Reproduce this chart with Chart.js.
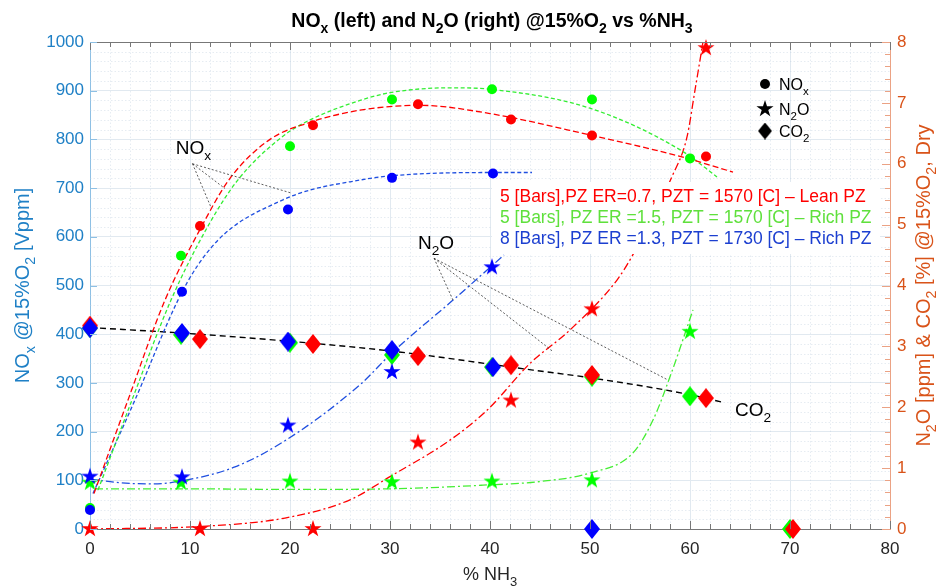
<!DOCTYPE html>
<html>
<head>
<meta charset="utf-8">
<script src="https://cdn.jsdelivr.net/npm/chart.js@4.4.1/dist/chart.umd.min.js"></script>
<style>
  html, body { margin: 0; padding: 0; background: #fff; }
</style>
</head>
<body>
<canvas id="myChart" width="943" height="587"></canvas>
<script>
// ---- data ----
// tick labels
const xTicks = [0, 10, 20, 30, 40, 50, 60, 70, 80];
const noxTicks = [0, 100, 200, 300, 400, 500, 600, 700, 800, 900, 1000];
const rightTicks = [0, 1, 2, 3, 4, 5, 6, 7, 8];

// measured points, %NH3 per case
const redX = [0, 11, 22.3, 32.8, 42.1, 50.2, 61.6, 70.3];
const greenX = [0, 9.1, 20, 30.2, 40.2, 50.2, 60, 70];
const blueX = [0, 9.2, 19.8, 30.2, 40.3, 50.2];

// NOx @15%O2 [Vppm] (left axis)
const noxRedX = [11, 22.3, 32.8, 42.1, 50.2, 61.6];
const noxRed = [622, 829, 872, 841, 808, 765];
const noxGreenX = [0, 9.1, 20, 30.2, 40.2, 50.2, 60];
const noxGreen = [43, 561, 786, 882, 903, 882, 761];
const noxBlueX = [0, 9.2, 19.8, 30.2, 40.3];
const noxBlue = [39, 487, 656, 721, 730];

// N2O [ppm] (right axis)
const n2oRedX = [0, 11, 22.3, 32.8, 42.1, 50.2, 61.6];
const n2oRed = [0, 0, 0, 1.42, 2.11, 3.61, 7.90];
const n2oGreenX = [0, 9.1, 20, 30.2, 40.2, 50.2, 60];
const n2oGreen = [0.76, 0.76, 0.78, 0.77, 0.78, 0.80, 3.24];
const n2oBlueX = [0, 9.2, 19.8, 30.2, 40.2];
const n2oBlue = [0.86, 0.85, 1.70, 2.58, 4.30];

// CO2 [%] (right axis)
const co2Red = [3.34, 3.12, 3.04, 2.84, 2.69, 2.53, 2.15, 0];
const co2Green = [3.30, 3.19, 3.06, 2.86, 2.66, 2.50, 2.18, 0];
const co2Blue = [3.30, 3.22, 3.08, 2.94, 2.66, 0];

// fitted trend curves as drawn in the figure
const noxFitRedX = [0.4, 3.8, 7.5, 11, 14, 18, 22, 27, 33, 40, 50, 59, 64.3];
const noxFitRed = [73, 265, 470, 615, 720, 800, 835, 860, 870, 853, 809, 765, 733];
const noxFitGreenX = [0.8, 4.2, 8.1, 11.8, 14.8, 19.2, 22, 27, 30, 36, 40, 50, 59.3, 62.7];
const noxFitGreen = [80, 265, 470, 622, 717, 805, 840, 880, 896, 906, 903, 864, 775, 723];
const noxFitBlueX = [0.3, 4.5, 8.8, 10.7, 13.5, 19.3, 22, 26, 30, 40, 44.2];
const noxFitBlue = [73, 265, 470, 539, 607, 676, 696, 713, 725, 732, 732];

const n2oFitRedX = [0, 10.8, 19.5, 26, 30, 36, 39.7, 44, 48, 52.7, 54.2, 58.2, 59.7, 60.5, 61.3];
const n2oFitRed = [0, 0.04, 0.18, 0.48, 0.86, 1.46, 1.95, 2.72, 3.27, 4.09, 4.48, 5.79, 6.44, 7.21, 8.0];
const n2oFitGreenX = [0.5, 10, 20, 30, 39.3, 45, 50, 54.3, 56.3, 58, 60.3];
const n2oFitGreen = [0.66, 0.66, 0.65, 0.66, 0.72, 0.78, 0.92, 1.25, 1.79, 2.5, 3.6];
const n2oFitBlueX = [0, 3, 6.2, 9.2, 14.5, 19.5, 27, 30.3, 36.3, 41.4];
const n2oFitBlue = [0.82, 0.76, 0.74, 0.79, 1.02, 1.45, 2.37, 2.91, 3.76, 4.5];

const co2FitX = [0, 10, 19.5, 30.3, 44.3, 50.2, 60.2, 63.3];
const co2Fit = [3.31, 3.21, 3.09, 2.92, 2.61, 2.48, 2.2, 2.08];

// annotation leader lines (first point is the label end), left-axis units
const noxLeaderX = [10.25, 12.05, 13.5, 20.1];
const noxLeaderY = [750, 663, 699, 690];
const n2oLeaderX = [34.4, 36.3, 46.2, 57.7];
const n2oLeaderY = [556, 470, 366, 307];

const caseLabels = [
    '5 [Bars],PZ ER=0.7, PZT = 1570 [C] \u2013 Lean PZ',
    '5 [Bars], PZ ER =1.5, PZT = 1570 [C] \u2013 Rich PZ',
    '8 [Bars], PZ ER =1.3, PZT = 1730 [C] \u2013 Rich PZ'
];

// ---- helpers ----
const FONT = '"Liberation Sans", Arial, Helvetica, sans-serif';
const RED = '#ff0000', GREEN = '#00ff00', BLUE = '#0000ff';
const LEFTC = '#1f80c6', RIGHTC = '#d95319';

function pts(xs, ys) { return xs.map((x, i) => ({ x: x, y: ys[i] })); }

function starImg(color, R) {
    const c = document.createElement('canvas');
    const s = Math.ceil(R * 2 + 2);
    c.width = s; c.height = s;
    const g = c.getContext('2d');
    g.translate(s / 2, s / 2);
    g.beginPath();
    for (let i = 0; i < 10; i++) {
        const r = i % 2 ? R * 0.382 : R;
        const a = -Math.PI / 2 + i * Math.PI / 5;
        g.lineTo(r * Math.cos(a), r * Math.sin(a));
    }
    g.closePath();
    g.fillStyle = color;
    g.fill();
    return c;
}

function diamondImg(color, w, h) {
    const c = document.createElement('canvas');
    c.width = w; c.height = h;
    const g = c.getContext('2d');
    g.beginPath();
    g.moveTo(w / 2, 0); g.lineTo(w, h / 2); g.lineTo(w / 2, h); g.lineTo(0, h / 2);
    g.closePath();
    g.fillStyle = color;
    g.fill();
    return c;
}

// text with "_c" meaning subscript c
function richParts(str) {
    const out = [];
    let buf = '';
    for (let i = 0; i < str.length; i++) {
        if (str[i] === '_') {
            if (buf) out.push({ t: buf, sub: false });
            buf = '';
            out.push({ t: str[i + 1], sub: true });
            i++;
        } else buf += str[i];
    }
    if (buf) out.push({ t: buf, sub: false });
    return out;
}

function drawRich(ctx, str, x, y, size, color, align, weight) {
    const ps = richParts(str);
    const fnt = s => (weight || 'normal') + ' ' + s + 'px ' + FONT;
    let w = 0;
    ps.forEach(p => { ctx.font = fnt(p.sub ? size * 0.72 : size); p.w = ctx.measureText(p.t).width; w += p.w; });
    let cx = align === 'center' ? x - w / 2 : x;
    ctx.fillStyle = color;
    ctx.textAlign = 'left';
    ctx.textBaseline = 'alphabetic';
    ps.forEach(p => {
        ctx.font = fnt(p.sub ? size * 0.72 : size);
        ctx.fillText(p.t, cx, y + (p.sub ? size * 0.32 : 0));
        cx += p.w;
    });
}

const stars = { r: starImg(RED, 9), g: starImg(GREEN, 9), b: starImg(BLUE, 9), k: starImg('#000', 9) };
const diamonds = { r: diamondImg(RED, 16, 20), g: diamondImg(GREEN, 16, 20), b: diamondImg(BLUE, 16, 20), k: diamondImg('#000', 14, 17) };

function fit(data, color, dash, axis, width) {
    return {
        data: data, yAxisID: axis, showLine: true, borderColor: color, borderWidth: width || 1.3,
        borderDash: dash, pointRadius: 0, fill: false, cubicInterpolationMode: 'monotone', order: 10
    };
}
function marks(data, color, style, axis, order) {
    return {
        data: data, yAxisID: axis, showLine: false, pointStyle: style, pointRadius: 5,
        backgroundColor: color, borderColor: color, borderWidth: 0, order: order, clip: false
    };
}
function leader(xs, ys) {
    const set = [];
    for (let i = 1; i < xs.length; i++) {
        set.push({
            data: [{ x: xs[0], y: ys[0] }, { x: xs[i], y: ys[i] }], yAxisID: 'y', showLine: true,
            borderColor: '#333', borderWidth: 0.8, borderDash: [2, 2], pointRadius: 0, order: 9
        });
    }
    return set;
}

// minor grid, inward ticks, box, texts
const decorations = {
    id: 'decorations',
    beforeDatasetsDraw(chart) {
        const { ctx, chartArea: a, scales } = chart;
        ctx.save();
        ctx.strokeStyle = 'rgba(190,205,220,0.55)';
        ctx.lineWidth = 0.7;
        ctx.setLineDash([1.5, 2]);
        for (let v = 0; v <= 80; v += 2) {
            if (v % 10 === 0) continue;
            const px = Math.round(scales.x.getPixelForValue(v)) + 0.5;
            ctx.beginPath(); ctx.moveTo(px, a.top); ctx.lineTo(px, a.bottom); ctx.stroke();
        }
        for (let v = 0; v <= 1000; v += 20) {
            if (v % 100 === 0) continue;
            const py = Math.round(scales.y.getPixelForValue(v)) + 0.5;
            ctx.beginPath(); ctx.moveTo(a.left, py); ctx.lineTo(a.right, py); ctx.stroke();
        }
        ctx.restore();
    },
    afterDatasetsDraw(chart) {
        const { ctx, chartArea: a, scales } = chart;
        const sx = scales.x, sy = scales.y, sr = scales.y2;
        ctx.save();
        ctx.setLineDash([]);
        // top border and x ticks (top and bottom)
        ctx.strokeStyle = '#777';
        ctx.lineWidth = 1;
        ctx.beginPath(); ctx.moveTo(a.left, a.top + 0.5); ctx.lineTo(a.right, a.top + 0.5); ctx.stroke();
        for (let v = 0; v <= 80; v += 2) {
            const px = Math.round(sx.getPixelForValue(v)) + 0.5;
            const len = v % 10 === 0 ? 8 : 5;
            ctx.beginPath(); ctx.moveTo(px, a.top); ctx.lineTo(px, a.top + len); ctx.stroke();
            ctx.beginPath(); ctx.moveTo(px, a.bottom); ctx.lineTo(px, a.bottom - len); ctx.stroke();
        }
        // left ticks
        ctx.strokeStyle = '#8ec0e4';
        noxTicks.forEach(v => {
            const py = Math.round(sy.getPixelForValue(v)) + 0.5;
            ctx.beginPath(); ctx.moveTo(a.left, py); ctx.lineTo(a.left + 7, py); ctx.stroke();
        });
        // right ticks with minors
        ctx.strokeStyle = '#eba284';
        for (let i = 0; i <= 40; i++) {
            const v = i * 0.2;
            const py = Math.round(sr.getPixelForValue(v)) + 0.5;
            const len = i % 5 === 0 ? 8 : 5;
            ctx.beginPath(); ctx.moveTo(a.right, py); ctx.lineTo(a.right - len, py); ctx.stroke();
        }

        // case legend box
        ctx.fillStyle = '#fff';
        ctx.fillRect(492, 182, 388, 72);
        const caseColors = [RED, '#5fe03c', '#1c3fd0'];
        caseLabels.forEach((t, i) => {
            ctx.font = '17.5px ' + FONT;
            ctx.fillStyle = caseColors[i];
            ctx.textAlign = 'left';
            ctx.textBaseline = 'alphabetic';
            ctx.fillText(t, 500, 202 + i * 21);
        });

        // marker-type legend
        ctx.fillStyle = '#000';
        ctx.beginPath(); ctx.arc(765, 84, 5, 0, Math.PI * 2); ctx.fill();
        ctx.drawImage(stars.k, 765 - stars.k.width / 2, 109 - stars.k.height / 2);
        ctx.drawImage(diamonds.k, 765 - diamonds.k.width / 2, 131 - diamonds.k.height / 2);
        drawRich(ctx, 'NO_x', 779, 90, 16, '#000', 'left');
        drawRich(ctx, 'N_2O', 779, 115, 16, '#000', 'left');
        drawRich(ctx, 'CO_2', 779, 137, 16, '#000', 'left');

        // annotation labels, placed by data position
        drawRich(ctx, 'NO_x', sx.getPixelForValue(8.57), sy.getPixelForValue(770), 19, '#000', 'left');
        drawRich(ctx, 'N_2O', sx.getPixelForValue(32.8), sy.getPixelForValue(575), 19, '#000', 'left');
        drawRich(ctx, 'CO_2', sx.getPixelForValue(64.5), sy.getPixelForValue(232), 19, '#000', 'left');

        // title and axis titles
        const cx = (a.left + a.right) / 2, cy = (a.top + a.bottom) / 2;
        drawRich(ctx, 'NO_x (left) and N_2O (right) @15%O_2 vs %NH_3', cx + 2, 27, 19.5, '#000', 'center', 'bold');
        drawRich(ctx, '% NH_3', cx, 580, 18, '#262626', 'center');
        ctx.save();
        ctx.translate(29, cy);
        ctx.rotate(-Math.PI / 2);
        drawRich(ctx, 'NO_x @15%O_2 [Vppm]', 0, 0, 20, LEFTC, 'center');
        ctx.restore();
        ctx.save();
        ctx.translate(930, cy);
        ctx.rotate(-Math.PI / 2);
        drawRich(ctx, 'N_2O [ppm] & CO_2 [%] @15%O_2, Dry', 0, 0, 20, RIGHTC, 'center');
        ctx.restore();
        ctx.restore();
    }
};

document.addEventListener('DOMContentLoaded', function () {
    const ctx = document.getElementById('myChart').getContext('2d');
    const datasets = [
        fit(pts(noxFitRedX, noxFitRed), RED, [6, 3], 'y'),
        fit(pts(noxFitGreenX, noxFitGreen), '#33ee33', [4, 2.5], 'y'),
        fit(pts(noxFitBlueX, noxFitBlue), '#1f4fe0', [4, 2.5], 'y'),
        fit(pts(n2oFitRedX, n2oFitRed), RED, [8, 3, 2, 3], 'y2'),
        fit(pts(n2oFitGreenX, n2oFitGreen), '#44ee33', [8, 3, 2, 3], 'y2'),
        fit(pts(n2oFitBlueX, n2oFitBlue), '#1f4fe0', [8, 3, 2, 3], 'y2'),
        fit(pts(co2FitX, co2Fit), '#000', [6, 4], 'y2', 1.4),
        ...leader(noxLeaderX, noxLeaderY),
        ...leader(n2oLeaderX, n2oLeaderY),
        // markers: blue on top, then red, then green
        marks(pts(noxBlueX, noxBlue), BLUE, 'circle', 'y', 1),
        marks(pts(n2oBlueX, n2oBlue), BLUE, stars.b, 'y2', 1),
        marks(pts(blueX, co2Blue), BLUE, diamonds.b, 'y2', 1),
        marks(pts(noxRedX, noxRed), RED, 'circle', 'y', 2),
        marks(pts(n2oRedX, n2oRed), RED, stars.r, 'y2', 2),
        marks(pts(redX, co2Red), RED, diamonds.r, 'y2', 2),
        marks(pts(noxGreenX, noxGreen), GREEN, 'circle', 'y', 3),
        marks(pts(n2oGreenX, n2oGreen), GREEN, stars.g, 'y2', 3),
        marks(pts(greenX, co2Green), GREEN, diamonds.g, 'y2', 3)
    ];

    const tickFont = { size: 17, family: FONT };
    const myChart = new Chart(ctx, {
        type: 'scatter',
        data: { datasets: datasets },
        options: {
            responsive: false,
            animation: false,
            layout: { padding: { top: 42, left: 0, right: 0, bottom: 0 } },
            plugins: { legend: { display: false }, tooltip: { enabled: false }, title: { display: false } },
            scales: {
                x: {
                    type: 'linear', min: 0, max: 80,
                    afterBuildTicks: s => { s.ticks = xTicks.map(v => ({ value: v })); },
                    afterFit: s => { s.height = 58; },
                    ticks: { color: '#262626', padding: 10, font: tickFont, callback: v => String(v) },
                    grid: { color: '#e1e9f0', drawTicks: false },
                    border: { color: '#777', width: 1 }
                },
                y: {
                    position: 'left', min: 0, max: 1000,
                    afterBuildTicks: s => { s.ticks = noxTicks.map(v => ({ value: v })); },
                    afterFit: s => { s.width = 90; },
                    ticks: { color: LEFTC, padding: 6, font: tickFont, callback: v => String(v) },
                    grid: { color: '#e1e9f0', drawTicks: false },
                    border: { color: '#8ec0e4', width: 1 }
                },
                y2: {
                    position: 'right', min: 0, max: 8,
                    afterBuildTicks: s => { s.ticks = rightTicks.map(v => ({ value: v })); },
                    afterFit: s => { s.width = 53; },
                    ticks: { color: RIGHTC, padding: 7, font: tickFont, callback: v => String(v) },
                    grid: { drawOnChartArea: false, drawTicks: false },
                    border: { color: '#eba284', width: 1 }
                }
            }
        },
        plugins: [decorations]
    });
});
</script>
</body>
</html>
